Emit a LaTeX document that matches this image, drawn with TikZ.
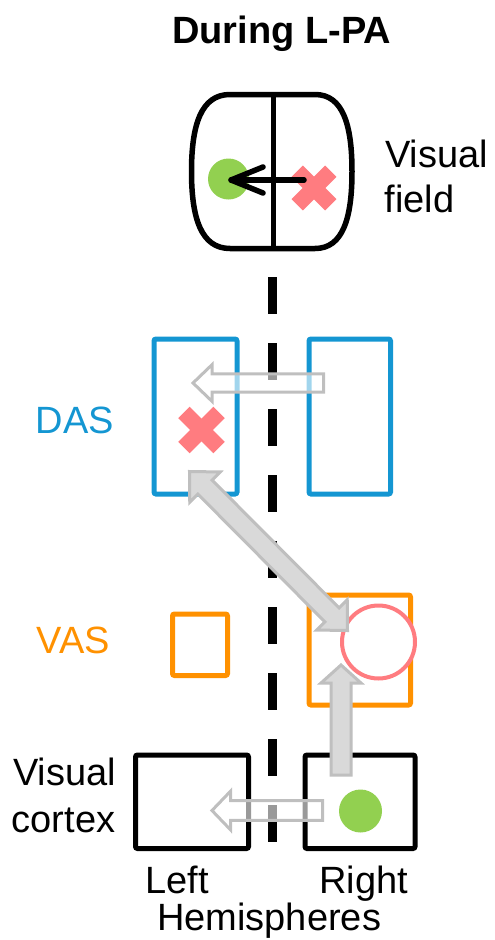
\documentclass[tikz,border=0pt]{standalone}
\usepackage{fontspec}
\setmainfont{Liberation Sans}
\usetikzlibrary{calc}

\definecolor{dasblue}{RGB}{20,150,210}
\definecolor{vasorange}{RGB}{255,145,0}
\definecolor{crosspink}{RGB}{255,124,128}
\definecolor{dotgreen}{RGB}{146,208,80}
\definecolor{arrowgray}{RGB}{191,191,191}
\definecolor{arrowfill}{RGB}{217,217,217}

% single block arrow: style, tail, tip, shaft half width, head half width, head length
\newcommand\blockarrow[6]{%
  \coordinate (bah) at ($(#3)!#6!(#2)$);
  \path[#1] ($(#2)!#4!90:(#3)$) -- ($(bah)!#4!90:(#3)$) -- ($(bah)!#5!90:(#3)$)
    -- (#3) -- ($(bah)!#5!-90:(#3)$) -- ($(bah)!#4!-90:(#3)$)
    -- ($(#2)!#4!-90:(#3)$) -- cycle;}
% double block arrow: style, end A, end B, shaft half width, head half width, head length
\newcommand\doubleblockarrow[6]{%
  \coordinate (baa) at ($(#2)!#6!(#3)$);
  \coordinate (bab) at ($(#3)!#6!(#2)$);
  \path[#1] (#2) -- ($(baa)!#5!90:(#3)$) -- ($(baa)!#4!90:(#3)$)
    -- ($(bab)!#4!-90:(#2)$) -- ($(bab)!#5!-90:(#2)$) -- (#3)
    -- ($(bab)!#5!90:(#2)$) -- ($(bab)!#4!90:(#2)$)
    -- ($(baa)!#4!-90:(#3)$) -- ($(baa)!#5!-90:(#3)$) -- cycle;}
% pink cross: centre, half extent of one arm
\newcommand\pinkcross[2]{%
  \draw[crossarm] ($(#1)+(-#2,-#2)$) -- ($(#1)+(#2,#2)$);
  \draw[crossarm] ($(#1)+(-#2,#2)$) -- ($(#1)+(#2,-#2)$);}

\begin{document}
\begin{tikzpicture}[x=1pt,y=-1pt,
  lbl/.style={inner sep=0pt, font=\fontsize{38}{45}\selectfont},
  region/.style={draw, line width=5pt, rounded corners=2pt, inner sep=0pt, fill=none},
  dasbox/.style={region, draw=dasblue},
  vasbox/.style={region, draw=vasorange},
  cortexbox/.style={region, draw=black},
  fieldline/.style={line width=5.5pt, line join=round},
  midline/.style={line width=9pt, dash pattern=on 37pt off 29pt},
  crossarm/.style={line width=16pt, draw=crosspink, line cap=butt},
  greendot/.style={circle, fill=dotgreen, inner sep=0pt},
  hollowarrow/.style={draw=arrowgray, line width=3pt, fill=white, fill opacity=0.6, line join=miter},
  solidarrow/.style={draw=arrowgray, line width=3pt, fill=arrowfill, line join=miter},
  shiftarrow/.style={line width=5.5pt, line cap=round, line join=round}]
\useasboundingbox (0,0) rectangle (495,940);

% title
\node[lbl, font=\fontsize{38}{45}\selectfont\bfseries, anchor=base west] (title) at (172,43) {During L-PA};

% visual field outline and vertical meridian
\draw[fieldline] (230,94.5) -- (315,94.5)
  .. controls (343,94.5) and (352,125) .. (352,171.5)
  .. controls (352,218) and (343,248.5) .. (315,248.5)
  -- (230,248.5)
  .. controls (201,248.5) and (191.5,218) .. (191.5,171.5)
  .. controls (191.5,125) and (201,94.5) .. (230,94.5) -- cycle;
\draw[fieldline] (273.3,94.5) -- (273.3,248.5);
\node[lbl, anchor=base west] (fieldLblA) at (385,167) {Visual};
\node[lbl, anchor=base west] (fieldLblB) at (384.5,212) {field};

% midline between hemispheres
\coordinate (midTop) at (272.5,277);
\coordinate (midBot) at (272.5,843);
\draw[midline] (midTop) -- (midBot);

% dorsal attention system
\node[dasbox, minimum width=83pt, minimum height=155pt] (dasL) at (195.5,416.5) {};
\node[dasbox, minimum width=81.5pt, minimum height=155pt] (dasR) at (349.75,416.5) {};
\node[lbl, text=dasblue, anchor=base east] (dasLbl) at (114,433) {DAS};

% ventral attention system
\node[vasbox, minimum width=55pt, minimum height=61.5pt] (vasL) at (200,644.75) {};
\node[vasbox, minimum width=101.5pt, minimum height=110pt] (vasR) at (359.75,650) {};
\node[lbl, text=vasorange, anchor=base east] (vasLbl) at (110,653) {VAS};

% visual cortex
\node[cortexbox, minimum width=113pt, minimum height=93.5pt] (vcL) at (192,801.75) {};
\node[cortexbox, minimum width=110pt, minimum height=93.5pt] (vcR) at (360,801.75) {};
\node[lbl, anchor=base west] (vcLblA) at (13,785) {Visual};
\node[lbl, anchor=base west] (vcLblB) at (11.5,832) {cortex};

% hemisphere labels
\node[lbl, anchor=base west] (leftLbl) at (145,893) {Left};
\node[lbl, anchor=base west] (rightLbl) at (319,893) {Right};
\node[lbl, anchor=base west] (hemiLbl) at (157,930.5) {Hemispheres};

% targets and markers
\node[greendot, minimum size=41pt] (fieldDot) at (228.5,179) {};
\coordinate (fieldCross) at (314,188);
\pinkcross{fieldCross}{16.8}
\coordinate (dasCross) at (201.5,430);
\pinkcross{dasCross}{17.6}
\node[greendot, minimum size=43pt] (vcDot) at (360.5,811) {};
\node[circle, draw=crosspink, line width=4pt, fill=white, minimum size=73pt, inner sep=0pt] (vasRing) at (378.5,642) {};

% shift of the field arrow
\coordinate (fieldTail) at (304,180);
\coordinate (fieldTip) at (231,180);
\draw[shiftarrow] (fieldTail) -- (fieldTip);
\draw[shiftarrow] ($(fieldTip)+(32,-13)$) -- (fieldTip) -- ($(fieldTip)+(32,13)$);

% interhemispheric transfer arrows
\coordinate (dasArrTail) at (323.5,383);
\coordinate (dasArrTip) at (193,383);
\blockarrow{hollowarrow}{dasArrTail}{dasArrTip}{9.2pt}{18.3pt}{19pt}
\coordinate (vcArrTail) at (322.5,810.5);
\coordinate (vcArrTip) at (212,810.5);
\blockarrow{hollowarrow}{vcArrTail}{vcArrTip}{9.8pt}{19.3pt}{18.5pt}

% feed-forward and DAS-VAS interaction
\coordinate (vertTail) at (341,775);
\coordinate (vertTip) at (341,665);
\blockarrow{solidarrow}{vertTail}{vertTip}{10pt}{20pt}{18pt}
\coordinate (diagA) at (189.5,471.5);
\coordinate (diagB) at (347.5,630.5);
\doubleblockarrow{solidarrow}{diagA}{diagB}{10pt}{21.5pt}{22pt}
\end{tikzpicture}
\end{document}
